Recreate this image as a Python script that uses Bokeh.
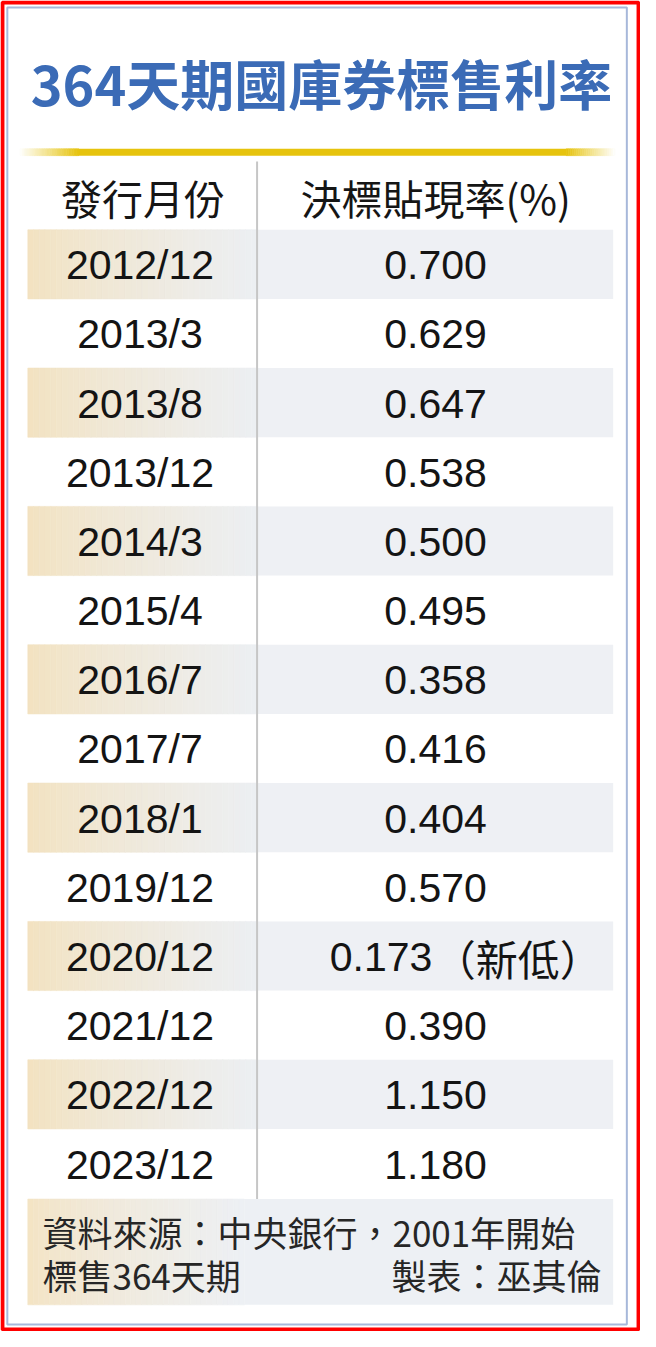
import numpy as np

from bokeh.plotting import figure
from bokeh.models import Range1d, ColumnDataSource
from bokeh.core.properties import value
from bokeh.embed import file_html
from bokeh.resources import INLINE


title = "364天期國庫券標售利率"
headers = ["發行月份", "決標貼現率(%)"]
months = ["2012/12", "2013/3", "2013/8", "2013/12", "2014/3", "2015/4", "2016/7",
          "2017/7", "2018/1", "2019/12", "2020/12", "2021/12", "2022/12", "2023/12"]
rates = [0.700, 0.629, 0.647, 0.538, 0.500, 0.495, 0.358,
         0.416, 0.404, 0.570, 0.173, 0.390, 1.150, 1.180]
notes = ["", "", "", "", "", "", "", "", "", "", "（新低）", "", "", ""]
source_lines = ["資料來源：中央銀行，2001年開始", "標售364天期"]
credit = "製表：巫其倫"

# page is laid out in the reference's pixel space, y pointing down
W, H = 656, 1347
CJK = "Noto Sans CJK TC"
NUM = "Liberation Sans"

p = figure(width=640, height=1331, x_range=Range1d(0, W), y_range=Range1d(H, 0),
           output_backend="svg", toolbar_location=None, min_border=0)
p.xaxis.visible = False
p.yaxis.visible = False
p.grid.visible = False
p.outline_line_color = None
p.background_fill_color = "white"
p.border_fill_color = "white"


def rgb(c):
    c = c.lstrip("#")
    return np.array([int(c[i:i + 2], 16) for i in (0, 2, 4)], dtype=float)


def gradient(x0, x1, top, bottom, c0, c1, n=40, ease=1.0):
    edges = np.linspace(x0, x1, n + 1)
    t = ((np.arange(n) + 0.5) / n) ** ease
    a, b = rgb(c0), rgb(c1)
    cols = ["#%02x%02x%02x" % tuple(int(round(v)) for v in a + (b - a) * ti) for ti in t]
    p.quad(left=edges[:-1], right=edges[1:], top=top, bottom=bottom,
           fill_color=cols, line_color=cols, line_width=0.6)


# frames
p.quad(left=2, right=654, top=2, bottom=1345, fill_color=None,
       line_color="#ff0000", line_width=4)
p.quad(left=7, right=642, top=7, bottom=1340, fill_color=None,
       line_color="#a7b8da", line_width=2)

# title
p.text(x=[329], y=[83], text=[title], text_font=value(CJK), text_font_size="54px",
       text_font_style="bold", text_color="#3b6bb6", text_align="center",
       text_baseline="middle")

# gold rule under the title
GOLD = "#e6c30d"
gradient(20, 80, 150, 157, "#ffffff", GOLD, n=24)
p.quad(left=[79.5], right=[580.5], top=[150], bottom=[157], fill_color=GOLD, line_color=None)
gradient(580, 630, 150, 157, GOLD, "#ffffff", n=24)

# header
p.text(x=[146, 446], y=[199, 199], text=headers, text_font=value(CJK),
       text_font_size="41px", text_color="#151515", text_align="center", text_baseline="middle")

# striped rows
ROW0, ROWH = 232, 70
n = len(months)
for i in range(0, n, 2):
    top = ROW0 + ROWH * i
    gradient(28, 263, top, top + ROWH, "#f3e2bf", "#eceff3", n=40, ease=0.8)
    p.quad(left=[263], right=[628], top=[top], bottom=[top + ROWH],
           fill_color="#eef0f4", line_color=None)

# column divider
p.segment(x0=[263], y0=[163], x1=[263], y1=[1213], line_color="#c6c6c6", line_width=2)

src = ColumnDataSource(dict(
    y=[ROW0 + ROWH * i + ROWH / 2 + 1 for i in range(n)],
    month=months,
    label=[f"{r:.3f}" for r in rates],
    lx=[390 if nt else 446 for nt in notes],
    note=notes,
))
p.text(x=143, y="y", text="month", source=src, text_font=value(NUM),
       text_font_size="41px", text_color="#141414", text_align="center", text_baseline="middle")
p.text(x="lx", y="y", text="label", source=src, text_font=value(NUM),
       text_font_size="41px", text_color="#141414", text_align="center", text_baseline="middle")
p.text(x=444, y="y", text="note", source=src, text_font=value(CJK),
       text_font_size="42px", text_color="#141414", text_align="left", text_baseline="middle")

# footer
gradient(28, 250, 1213, 1320, "#f4e3c2", "#edf0f4", n=40, ease=0.7)
p.quad(left=[250], right=[628], top=[1213], bottom=[1320], fill_color="#edf0f4", line_color=None)
p.text(x=[43, 43], y=[1246, 1289], text=source_lines, text_font=value(CJK),
       text_font_size="35px", text_color="#262626", text_align="left", text_baseline="middle")
p.text(x=[616], y=[1289], text=[credit], text_font=value(CJK),
       text_font_size="35px", text_color="#262626", text_align="right", text_baseline="middle")

open("out.html", "w").write(file_html(p, INLINE))
